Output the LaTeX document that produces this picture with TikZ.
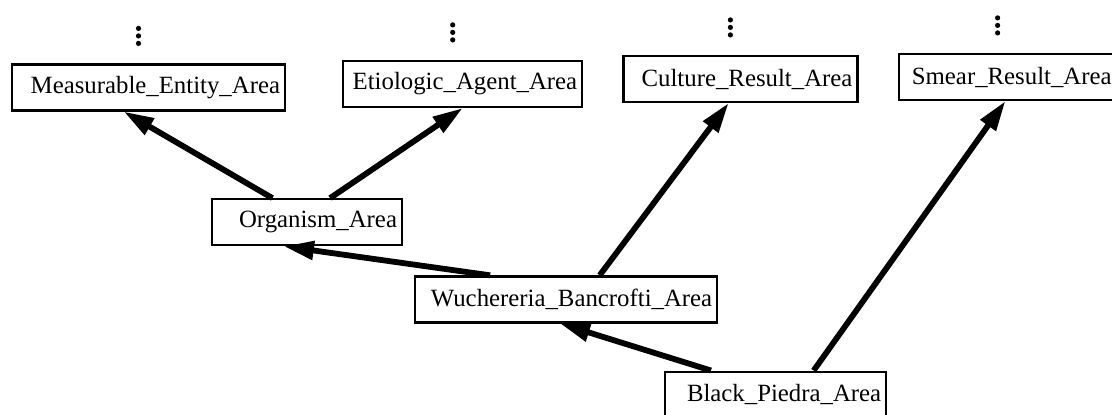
\documentclass[tikz,border=0pt]{standalone}
\usepackage{fontspec}
\setmainfont{Liberation Serif}
\usetikzlibrary{arrows.meta,positioning,calc}

\begin{document}
\begin{tikzpicture}[
    x=0.5pt, y=-0.5pt,
    font=\fontsize{12.4}{14}\selectfont,
    node distance=20pt and 20pt,
    areabox/.style={
        rectangle,
        draw=black,
        line width=1.1pt,
        fill=white,
        minimum height=23pt,
        inner xsep=2.5pt,
        inner ysep=0pt,
        align=right
    },
    link/.style={
        -{Triangle[length=15pt,width=9pt]},
        line width=2.9pt,
        draw=black
    }
]
\useasboundingbox (0,0) rectangle (1112,414);

% -------------------- Top row --------------------------------
\node[areabox, text width=131.5pt] (meas) at (148.5,87.5) {Measurable\_Entity\_Area};
\node[areabox, text width=114.5pt, right=28pt of meas, yshift=1.75pt] (etio) {Etiologic\_Agent\_Area};
\node[areabox, text width=112pt, right=19.5pt of etio, yshift=2.5pt] (cult) {Culture\_Result\_Area};
\node[areabox, text width=104pt, right=19.5pt of cult, yshift=1pt] (smear) {Smear\_Result\_Area};

% -------------------- Lower areas ----------------------------
\node[areabox, text width=90pt, below=43.25pt of meas, xshift=79.25pt] (org) {Organism\_Area};
\node[areabox, text width=146pt, below right=14.5pt and 5.5pt of org] (wuch) {Wuchereria\_Bancrofti\_Area};
\node[areabox, text width=105.5pt, below=23.5pt of wuch, xshift=104.75pt] (black) {Black\_Piedra\_Area};

% continuation dots
\foreach \b in {meas,etio,cult,smear}
  \foreach \k in {0,1,2}
    \fill ($(\b.north)+(-10,-20-7.5*\k)$) circle (1.3pt);

% -------------------- Links ----------------------------------
\draw[link] ($(org.north west)!0.32!(org.north east)$) -- ($(meas.south west)!0.41!(meas.south east)$);
\draw[link] ($(org.north west)!0.62!(org.north east)$) -- (etio.south);
\draw[link] ($(wuch.north west)!0.25!(wuch.north east)$) -- ($(org.south west)!0.38!(org.south east)$);
\draw[link] ($(wuch.north west)!0.61!(wuch.north east)$) -- ($(cult.south west)!0.45!(cult.south east)$);
\draw[link] ($(black.north west)!0.21!(black.north east)$) -- ($(wuch.south west)!0.48!(wuch.south east)$);
\draw[link] ($(black.north west)!0.67!(black.north east)$) -- ($(smear.south west)!0.49!(smear.south east)$);

\end{tikzpicture}
\end{document}
